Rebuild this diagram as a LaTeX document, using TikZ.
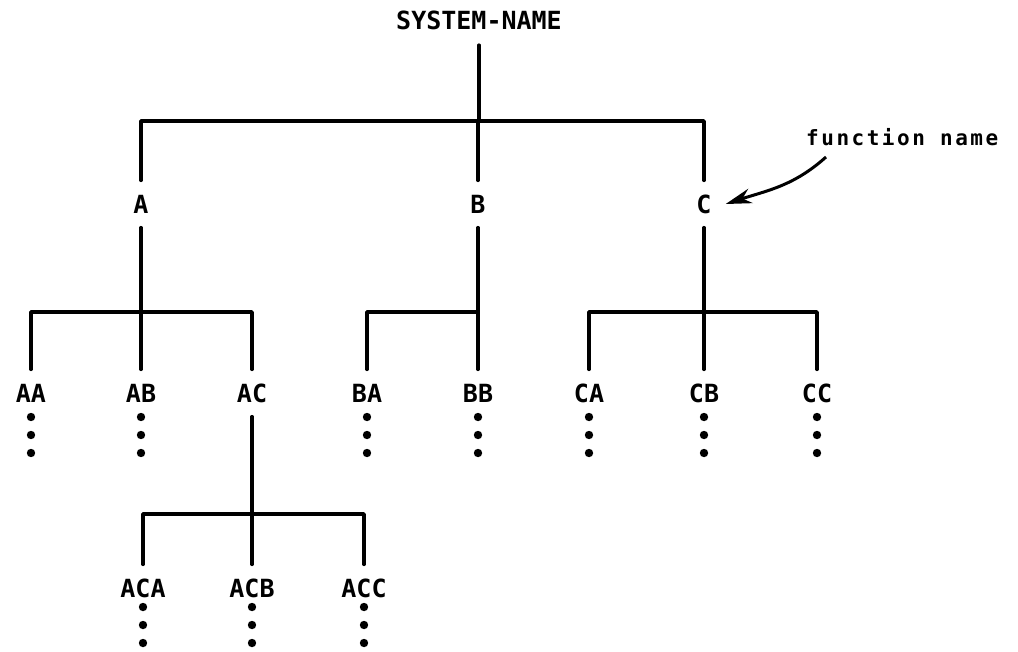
\documentclass[tikz,border=0pt]{standalone}
\usepackage{fontspec}
\setmonofont{DejaVu Sans Mono}
\newfontfamily\fnfont{DejaVu Sans Mono}[LetterSpace=12]
\usetikzlibrary{arrows.meta}
\begin{document}
\begin{tikzpicture}[x=1pt,y=-1pt,
  tree/.style={line width=3.6pt,line cap=round,line join=round},
  lbl/.style={font=\ttfamily\bfseries\fontsize{25}{25}\selectfont,minimum height=47pt,inner xsep=14pt,inner ysep=0pt,text height=18pt,text depth=0pt},
  dot/.style={fill=black},
  callout/.style={line width=3pt,-{Stealth[length=26pt,width=15pt]}}]
\useasboundingbox (0,0) rectangle (1018,651);
% top
\node[lbl,minimum height=50pt] (sys) at (479,20) {SYSTEM-NAME};
\node[lbl] (A) at (141,204) {A};
\node[lbl] (B) at (478,204) {B};
\node[lbl] (C) at (704,204) {C};
\coordinate (j0) at (479,121);
\draw[tree] (sys.south) -- (j0);
\draw[tree] (A.north) |- (j0) -| (C.north);
\draw[tree] (j0) -| (B.north);
% level 2
\foreach \n/\x in {AA/31,AB/141,AC/252,BA/367,BB/478,CA/589,CB/704,CC/817}{
  \node[lbl] (\n) at (\x,393) {\n};
}
\coordinate (jA) at (141,312);
\coordinate (jB) at (478,312);
\coordinate (jC) at (704,312);
\draw[tree] (A.south) -- (jA);
\draw[tree] (AA.north) |- (jA) -| (AC.north);
\draw[tree] (jA) -- (AB.north);
\draw[tree] (B.south) -- (jB);
\draw[tree] (BA.north) |- (jB) -- (BB.north);
\draw[tree] (C.south) -- (jC);
\draw[tree] (CA.north) |- (jC) -| (CC.north);
\draw[tree] (jC) -- (CB.north);
\foreach \n in {AA,AB,BA,BB,CA,CB,CC}{
  \foreach \d in {24,42,60}{
    \fill[dot] ([yshift=-\d pt]\n.center) circle (4.2pt);
  }
}
% level 3
\foreach \n/\x in {ACA/143,ACB/252,ACC/364}{
  \node[lbl] (\n) at (\x,588) {\n};
}
\coordinate (jAC) at (252,514);
\draw[tree] (AC.south) -- (jAC);
\draw[tree] (ACA.north) |- (jAC) -| (ACC.north);
\draw[tree] (jAC) -- (ACB.north);
\foreach \n in {ACA,ACB,ACC}{
  \foreach \d in {19,37,55}{
    \fill[dot] ([yshift=-\d pt]\n.center) circle (4.2pt);
  }
}
% callout
\node[font=\fnfont\bfseries\fontsize{21}{21}\selectfont,anchor=west,inner sep=0pt] (fn) at (806,137) {function name};
\coordinate (fnarrow) at (826,157);
\draw[callout] (fnarrow) to[out=222,in=18] (C.east);
\end{tikzpicture}
\end{document}
